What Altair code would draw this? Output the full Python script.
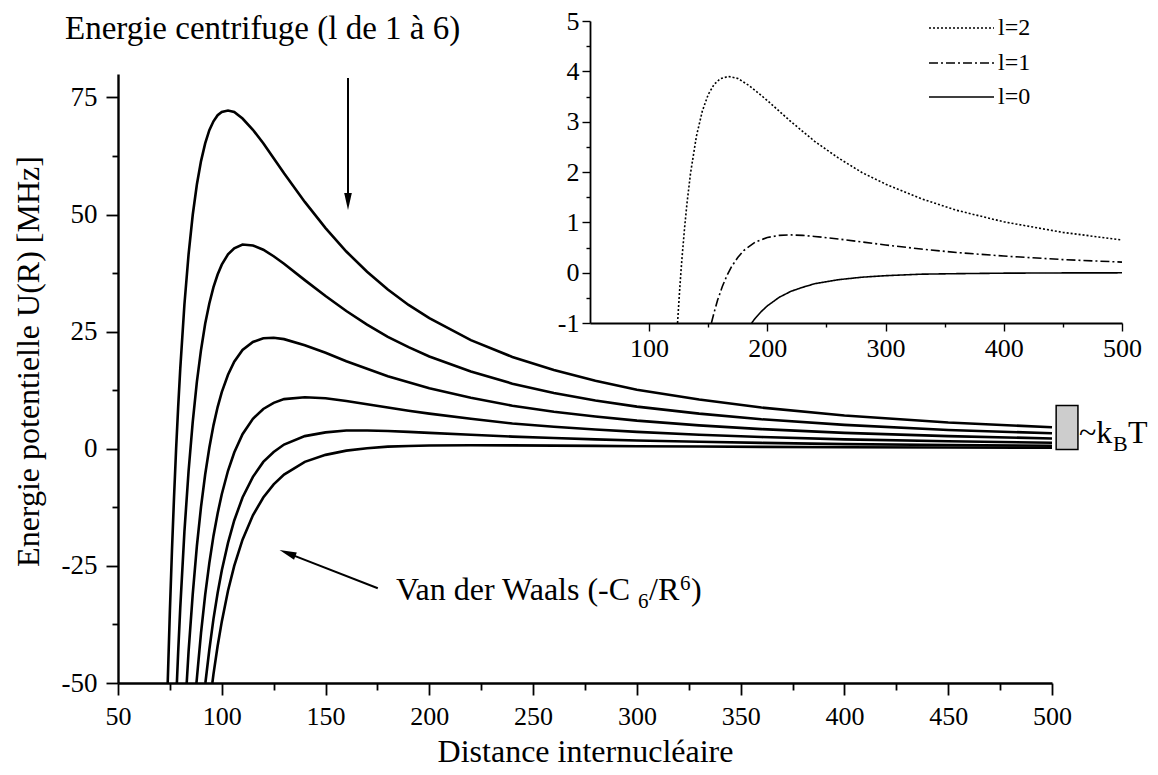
import altair as alt
import pandas as pd

FONT = "Liberation Serif"

# ---------------- main panel: U(R) for l = 1..6 ----------------
r_l6 = [73.95, 75, 76, 77, 78, 79, 80, 82, 84, 86, 88, 90, 92, 94, 96, 98, 100, 103, 106, 110,
        115, 120, 125, 130, 140, 150, 160, 170, 180, 190, 200, 220, 240, 260, 280, 300, 330, 360, 400, 450, 500]
u_l6 = [-50, -34.6, -21.7, -10.3, 0.0, 9.0, 17.1, 30.8, 41.5, 49.9, 56.4, 61.4, 65.2, 68.0, 69.9, 71.2, 71.9, 72.2, 71.9, 70.5,
        68.1, 65.2, 62.0, 58.8, 52.7, 47.1, 42.1, 37.8, 34.0, 30.7, 27.9, 23.2, 19.6, 16.8, 14.5, 12.6, 10.5, 8.8, 7.1, 5.6, 4.6]

r_l5 = [78.36, 79, 80, 82, 84, 86, 88, 90, 92, 94, 96, 98, 100, 103, 106, 110, 115, 120, 125, 130,
        140, 150, 160, 170, 180, 190, 200, 220, 240, 260, 280, 300, 330, 360, 400, 450, 500]
u_l5 = [-50, -43.3, -33.9, -17.7, -4.8, 5.7, 14.3, 21.1, 26.7, 31.0, 34.5, 37.2, 39.3, 41.5, 42.8, 43.6, 43.4, 42.5, 41.1, 39.5,
        36.0, 32.6, 29.4, 26.5, 23.9, 21.7, 19.7, 16.5, 13.9, 11.9, 10.3, 9.0, 7.5, 6.3, 5.1, 4.0, 3.3]

r_l4 = [83.1, 84, 86, 88, 90, 92, 94, 96, 98, 100, 103, 106, 110, 115, 120, 125, 130, 140, 150, 160,
        170, 180, 190, 200, 220, 240, 260, 280, 300, 330, 360, 400, 450, 500]
u_l4 = [-50, -43.3, -31.1, -20.8, -12.4, -5.5, 0.2, 5.0, 8.9, 12.1, 15.8, 18.6, 21.1, 22.8, 23.6, 23.7, 23.4, 22.1, 20.5, 18.7,
        17.1, 15.5, 14.2, 12.9, 10.9, 9.2, 7.9, 6.9, 6.0, 5.0, 4.2, 3.4, 2.7, 2.2]

r_l3 = [87.8, 90, 92, 94, 96, 98, 100, 103, 106, 110, 115, 120, 125, 130, 140, 150, 160, 170, 180, 190,
        200, 220, 240, 260, 280, 300, 330, 360, 400, 450, 500]
u_l3 = [-50, -39.3, -31.2, -24.4, -18.6, -13.8, -9.7, -4.7, -0.8, 3.1, 6.4, 8.5, 9.8, 10.6, 11.0, 10.8, 10.2, 9.5, 8.8, 8.1,
        7.5, 6.4, 5.4, 4.7, 4.1, 3.6, 3.0, 2.5, 2.0, 1.6, 1.3]

r_l2 = [92.1, 94, 96, 98, 100, 103, 106, 110, 115, 120, 125, 130, 140, 150, 160, 170, 180, 190, 200, 220,
        240, 260, 280, 300, 330, 360, 400, 450, 500]
u_l2 = [-50, -42.9, -36.3, -30.8, -26.0, -20.1, -15.3, -10.4, -6.0, -2.8, -0.7, 0.9, 2.7, 3.5, 3.9, 3.9, 3.8, 3.6, 3.4, 3.0,
        2.6, 2.3, 2.0, 1.75, 1.5, 1.25, 1.0, 0.8, 0.65]

r_l1 = [95.45, 96, 98, 100, 103, 106, 110, 115, 120, 125, 130, 140, 150, 160, 170, 180, 190, 200, 220, 240,
        260, 280, 300, 330, 360, 400, 450, 500]
u_l1 = [-50, -48.1, -42.1, -36.9, -30.3, -25.0, -19.4, -14.2, -10.4, -7.6, -5.5, -2.8, -1.3, -0.4, 0.1, 0.45, 0.6, 0.7, 0.75, 0.72,
        0.67, 0.61, 0.55, 0.47, 0.4, 0.33, 0.27, 0.22]

# ---------------- inset: l = 0, 1, 2 ----------------
ri_l2 = [124.05, 125, 126, 127, 128, 130, 132, 135, 140, 145, 150, 155, 160, 167, 175, 185, 200, 220, 240, 260,
         280, 300, 330, 360, 400, 450, 500]
ui_l2 = [-1, -0.65, -0.29, 0.04, 0.34, 0.89, 1.37, 1.97, 2.71, 3.21, 3.54, 3.74, 3.85, 3.90, 3.86, 3.71, 3.42, 3.00, 2.61, 2.28,
         1.99, 1.76, 1.47, 1.24, 1.01, 0.80, 0.65]
ri_l1 = [152.7, 155, 158, 162, 166, 170, 175, 180, 190, 200, 210, 220, 230, 240, 260, 280, 300, 330, 360, 400, 450, 500]
ui_l1 = [-1, -0.79, -0.54, -0.27, -0.05, 0.13, 0.30, 0.44, 0.61, 0.70, 0.74, 0.75, 0.74, 0.72, 0.67, 0.61, 0.55, 0.47, 0.40,
         0.33, 0.26, 0.21]
ri_l0 = [186.7, 190, 195, 200, 210, 220, 230, 240, 260, 280, 300, 330, 360, 400, 450, 500]
ui_l0 = [-1, -0.90, -0.77, -0.66, -0.49, -0.37, -0.29, -0.22, -0.14, -0.09, -0.06, -0.03, -0.02, -0.01, -0.005, -0.003]

inset_labels = ["l=2", "l=1", "l=0"]

main_x_ticks = [50, 75, 100, 125, 150, 175, 200, 225, 250, 275, 300, 325, 350, 375, 400, 425, 450, 475, 500]
main_y_ticks = [-50, -37.5, -25, -12.5, 0, 12.5, 25, 37.5, 50, 62.5, 75]
inset_x_ticks = [100, 150, 200, 250, 300, 350, 400, 450, 500]
inset_y_ticks = [-1, -0.5, 0, 0.5, 1, 1.5, 2, 2.5, 3, 3.5, 4, 4.5, 5]

kbt_R = [502, 512.5]
kbt_U = [-0.15, 9.25]

# ---------------- tables ----------------
rows = []
for name, rs, us in [("l=1", r_l1, u_l1), ("l=2", r_l2, u_l2), ("l=3", r_l3, u_l3),
                     ("l=4", r_l4, u_l4), ("l=5", r_l5, u_l5), ("l=6", r_l6, u_l6)]:
    for r, u in zip(rs, us):
        rows.append({"R": r, "U": u, "l": name})
main_df = pd.DataFrame(rows)

rows = []
for name, rs, us in [("l=2", ri_l2, ui_l2), ("l=1", ri_l1, ui_l1), ("l=0", ri_l0, ui_l0)]:
    for r, u in zip(rs, us):
        rows.append({"R": r, "U": u, "l": name})
inset_df = pd.DataFrame(rows)

box_df = pd.DataFrame({"x1": [kbt_R[0]], "x2": [kbt_R[1]], "y1": [kbt_U[0]], "y2": [kbt_U[1]]})
one = pd.DataFrame({"d": [0]})

# ---------------- scales & axes ----------------
xs_main = alt.Scale(domain=[50, 500], nice=False, zero=False)
ys_main = alt.Scale(domain=[-50, 80], nice=False, zero=False)
xs_in = alt.Scale(domain=[50, 500], nice=False, zero=False, range=[472, 1004])
ys_in = alt.Scale(domain=[-1, 5], nice=False, zero=False, range=[249, -53])

common_axis = dict(labelFont=FONT, labelColor="black", titleFont=FONT, titleColor="black",
                   titleFontWeight="normal", domainColor="black", tickColor="black", grid=False,
                   labelOverlap=False, labelFlush=False)

x_axis_main = alt.Axis(
    values=main_x_ticks,
    labelExpr="datum.value % 50 === 0 ? '' + datum.value : ''",
    tickSize={"condition": {"test": "datum.value % 50 === 0", "value": 12}, "value": 7},
    tickWidth=1.8, domainWidth=2.4, labelFontSize=26, labelPadding=8,
    title="Distance internucléaire", titleFontSize=32, titleY=78, titleBaseline="alphabetic",
    **common_axis)
y_axis_main = alt.Axis(
    values=main_y_ticks,
    labelExpr="datum.value % 25 === 0 ? '' + datum.value : ''",
    tickSize={"condition": {"test": "datum.value % 25 === 0", "value": 12}, "value": 6},
    tickWidth=1.8, domainWidth=2.4, labelFontSize=27, labelPadding=9,
    title="Energie potentielle U(R) [MHz]", titleFontSize=32, titleX=-80, titleY=287,
    titleBaseline="alphabetic",
    **common_axis)
x_axis_in = alt.Axis(
    values=inset_x_ticks, orient="bottom", offset=-360,
    labelExpr="datum.value % 100 === 0 ? '' + datum.value : ''",
    tickSize={"condition": {"test": "datum.value % 100 === 0", "value": 8}, "value": 4},
    tickWidth=1.4, domainWidth=1.8, labelFontSize=26, labelPadding=4, title="",
    **common_axis)
y_axis_in = alt.Axis(
    values=inset_y_ticks, orient="left", offset=-472,
    labelExpr="datum.value % 1 === 0 ? '' + datum.value : ''",
    tickSize={"condition": {"test": "datum.value % 1 === 0", "value": 8}, "value": 4},
    tickWidth=1.4, domainWidth=1.8, labelFontSize=26, labelPadding=3, title="",
    **common_axis)

# ---------------- main layers ----------------
lines = alt.Chart(main_df).mark_line(color="black", strokeWidth=2.6).encode(
    x=alt.X("R:Q", scale=xs_main, axis=x_axis_main),
    y=alt.Y("U:Q", scale=ys_main, axis=y_axis_main),
    detail="l:N",
)

box = alt.Chart(box_df).mark_rect(fill="#cdcdcd", stroke="black", strokeWidth=1.5).encode(
    x=alt.X("x1:Q", scale=xs_main, axis=x_axis_main), x2="x2:Q",
    y=alt.Y("y1:Q", scale=ys_main, axis=y_axis_main), y2="y2:Q",
)


def label(text, x, y, size=32, align="left", baseline="alphabetic"):
    return alt.Chart(one).mark_text(text=text, font=FONT, fontSize=size, color="black",
                                    align=align, baseline=baseline).encode(
        x=alt.value(x), y=alt.value(y))


title_txt = label("Energie centrifuge (l de 1 à 6)", -53, -35, size=33)

arrow_down = alt.Chart(one).mark_rule(color="black", strokeWidth=2).encode(
    x=alt.value(230), y=alt.value(4), y2=alt.value(128))
arrow_down_head = alt.Chart(one).mark_point(shape="M-0.45,-1L0.45,-1L0,1Z", filled=True, color="black",
                                            opacity=1, size=289, angle=0).encode(
    x=alt.value(230), y=alt.value(127.5))

vdw_line = alt.Chart(one).mark_rule(color="black", strokeWidth=2).encode(
    x=alt.value(259.8), y=alt.value(514.3), x2=alt.value(169.5), y2=alt.value(479.1))
vdw_head = alt.Chart(one).mark_point(shape="M-0.45,-1L0.45,-1L0,1Z", filled=True, color="black",
                                     opacity=1, size=289, angle=111).encode(
    x=alt.value(169.5), y=alt.value(479.1))

vx = 278
vdw_t1 = label("Van der Waals (-C", vx, 526)
vdw_t2 = label("6", vx + 242, 534, size=21)
vdw_t3 = label("/R", vx + 253, 526)
vdw_t4 = label("6", vx + 284, 516, size=21)
vdw_t5 = label(")", vx + 295, 526)

kx = 961
kbt_t1 = label("~k", kx, 369)
kbt_t2 = label("B", kx + 34, 377, size=22)
kbt_t3 = label("T", kx + 49, 369)

# inset legend (drawn by hand, like the original figure)
leg_rows = []
for txt, yy, dash in [("l=2", -46, [2, 2]), ("l=1", -11, [9, 3, 2, 3]), ("l=0", 23, [1, 0])]:
    leg_rows.append(alt.Chart(one).mark_rule(color="black", strokeWidth=1.6, strokeDash=dash).encode(
        x=alt.value(811), x2=alt.value(876), y=alt.value(yy)))
    leg_rows.append(label(txt, 880, yy, size=24, baseline="middle"))

main_layer = alt.layer(lines, box, title_txt, arrow_down, arrow_down_head, vdw_line, vdw_head,
                       vdw_t1, vdw_t2, vdw_t3, vdw_t4, vdw_t5, kbt_t1, kbt_t2, kbt_t3, *leg_rows)

# ---------------- inset layer ----------------
inset_lines = alt.Chart(inset_df).mark_line(color="black", strokeWidth=1.6).encode(
    x=alt.X("R:Q", scale=xs_in, axis=x_axis_in),
    y=alt.Y("U:Q", scale=ys_in, axis=y_axis_in),
    strokeDash=alt.StrokeDash(
        "l:N",
        scale=alt.Scale(domain=inset_labels, range=[[2, 2], [9, 3, 2, 3], [1, 0]]),
        legend=None,
    ),
)

chart = alt.layer(main_layer, inset_lines).resolve_scale(
    x="independent", y="independent"
).properties(
    width=934, height=609,
    padding={"left": 110, "top": 66, "right": 98, "bottom": 84},
    autosize=alt.AutoSizeParams(type="none"),
).configure_view(strokeWidth=0)

chart.save("out.html", embed_options={"renderer": "svg", "actions": False})
